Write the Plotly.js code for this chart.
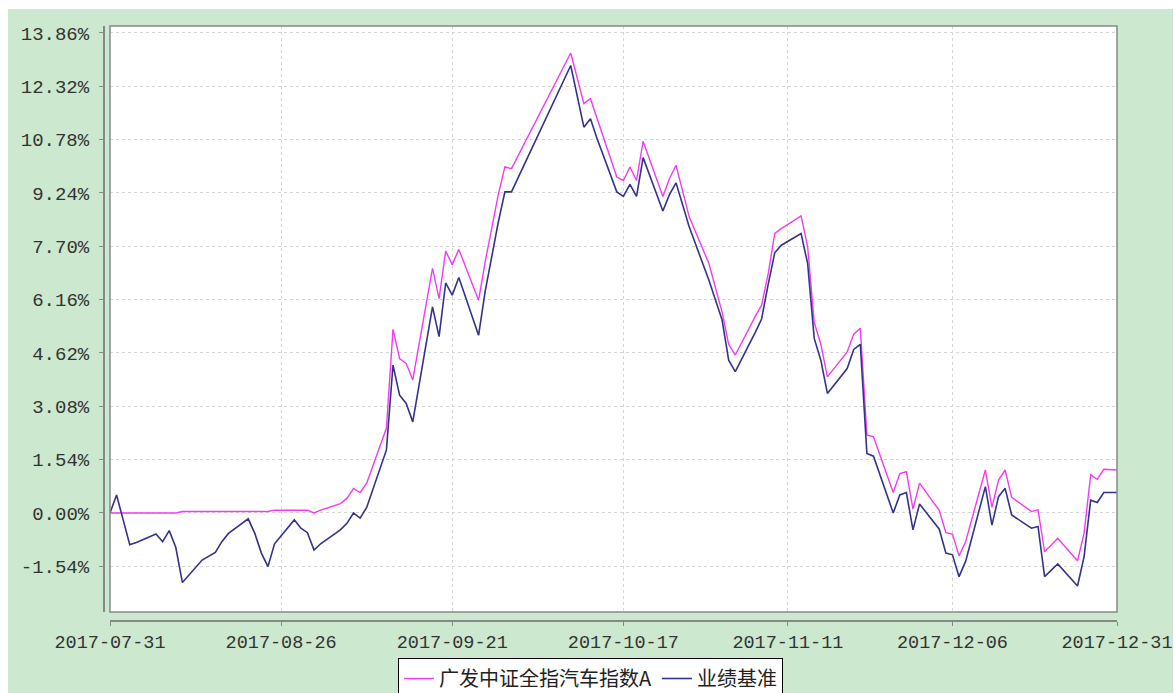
<!DOCTYPE html>
<html>
<head>
<meta charset="utf-8">
<script src="https://cdn.plot.ly/plotly-3.0.1.min.js"></script>
<style>
  html, body { margin: 0; padding: 0; background: #ffffff; }
  #chart { position: absolute; left: 8px; top: 9px; width: 1165px; height: 684px; }
</style>
</head>
<body>
<div id="chart"></div>
<script>
// ---- data ----
const dates = [
  '2017-07-31',
  '2017-08-01','2017-08-02','2017-08-03','2017-08-04',
  '2017-08-07','2017-08-08','2017-08-09','2017-08-10','2017-08-11',
  '2017-08-14','2017-08-15','2017-08-16','2017-08-17','2017-08-18',
  '2017-08-21','2017-08-22','2017-08-23','2017-08-24','2017-08-25',
  '2017-08-28','2017-08-29','2017-08-30','2017-08-31',
  '2017-09-01',
  '2017-09-04','2017-09-05','2017-09-06','2017-09-07','2017-09-08',
  '2017-09-11','2017-09-12','2017-09-13','2017-09-14','2017-09-15',
  '2017-09-18','2017-09-19','2017-09-20','2017-09-21','2017-09-22',
  '2017-09-25','2017-09-26','2017-09-27','2017-09-28','2017-09-29','2017-09-30',
  '2017-10-09','2017-10-10','2017-10-11','2017-10-12','2017-10-13',
  '2017-10-16','2017-10-17','2017-10-18','2017-10-19','2017-10-20',
  '2017-10-23','2017-10-24','2017-10-25','2017-10-26','2017-10-27',
  '2017-10-30','2017-10-31',
  '2017-11-01','2017-11-02','2017-11-03',
  '2017-11-06','2017-11-07','2017-11-08','2017-11-09','2017-11-10',
  '2017-11-13','2017-11-14','2017-11-15','2017-11-16','2017-11-17',
  '2017-11-20','2017-11-21','2017-11-22','2017-11-23','2017-11-24',
  '2017-11-27','2017-11-28','2017-11-29','2017-11-30',
  '2017-12-01',
  '2017-12-04','2017-12-05','2017-12-06','2017-12-07','2017-12-08',
  '2017-12-11','2017-12-12','2017-12-13','2017-12-14','2017-12-15',
  '2017-12-18','2017-12-19','2017-12-20','2017-12-21','2017-12-22',
  '2017-12-25','2017-12-26','2017-12-27','2017-12-28','2017-12-29',
  '2017-12-31'
];

// 广发中证全指汽车指数A (%)
const fundValues = [
  0.00,
  0.00, 0.00, 0.00, 0.00,
  0.00, 0.00, 0.00, 0.00, 0.04,
  0.04, 0.04, 0.04, 0.04, 0.04,
  0.04, 0.04, 0.04, 0.04, 0.08,
  0.08, 0.08, 0.08, 0.00,
  0.08,
  0.27, 0.42, 0.71, 0.59, 0.86,
  2.45, 5.30, 4.46, 4.32, 3.84,
  7.06, 6.19, 7.56, 7.17, 7.61,
  6.14, 7.25, 8.25, 9.20, 9.99, 9.94,
  13.28, 12.55, 11.82, 11.96, 11.40,
  9.70, 9.60, 9.99, 9.60, 10.73,
  9.14, 9.65, 10.04, 9.30, 8.55,
  7.20, 6.50,
  5.80, 4.87, 4.56,
  5.66, 6.00, 6.90, 8.07, 8.21,
  8.58, 7.68, 5.50, 4.87, 3.93,
  4.65, 5.16, 5.33, 2.25, 2.20,
  0.59, 1.14, 1.19, 0.11,
  0.86,
  0.07, -0.57, -0.61, -1.24, -0.83,
  1.24, 0.16, 0.95, 1.24, 0.45,
  0.04, 0.09, -1.12, -0.92, -0.73,
  -1.38, -0.59, 1.10, 0.97, 1.26,
  1.24
];

// 业绩基准 (%)
const benchValues = [
  0.00,
  0.52, -0.20, -0.92, -0.85,
  -0.61, -0.83, -0.51, -1.00, -2.01,
  -1.36, -1.24, -1.14, -0.83, -0.59,
  -0.17, -0.59, -1.16, -1.55, -0.89,
  -0.20, -0.44, -0.57, -1.07,
  -0.89,
  -0.49, -0.30, 0.00, -0.15, 0.16,
  1.82, 4.27, 3.40, 3.16, 2.63,
  5.95, 5.09, 6.64, 6.29, 6.80,
  5.13, 6.40, 7.45, 8.40, 9.27, 9.27,
  12.92, 12.03, 11.14, 11.38, 10.81,
  9.27, 9.14, 9.49, 9.14, 10.26,
  8.72, 9.19, 9.53, 8.90, 8.26,
  6.72, 6.15,
  5.57, 4.41, 4.08,
  5.20, 5.60, 6.60, 7.51, 7.73,
  8.07, 7.20, 5.04, 4.41, 3.45,
  4.17, 4.72, 4.87, 1.72, 1.64,
  0.00, 0.52, 0.59, -0.49,
  0.26,
  -0.47, -1.16, -1.21, -1.84, -1.40,
  0.76, -0.35, 0.47, 0.71, -0.06,
  -0.44, -0.39, -1.84, -1.65, -1.47,
  -2.11, -1.26, 0.37, 0.30, 0.59,
  0.59
];

const seriesNames = ['广发中证全指汽车指数A', '业绩基准'];
const yTickValues = [-1.54, 0.00, 1.54, 3.08, 4.62, 6.16, 7.70, 9.24, 10.78, 12.32, 13.86];
const yTickLabels = yTickValues.map(v => v.toFixed(2) + '%');
const xTickDates = ['2017-07-31','2017-08-26','2017-09-21','2017-10-17','2017-11-11','2017-12-06','2017-12-31'];
const xTickLabels = xTickDates.slice();

// ---- chart ----
const monoFamily = 'Liberation Mono, DejaVu Sans Mono, monospace';

const traces = [
  {
    x: dates, y: fundValues, name: seriesNames[0], type: 'scatter', mode: 'lines',
    line: { color: '#f03cf0', width: 1.4 }
  },
  {
    x: dates, y: benchValues, name: seriesNames[1], type: 'scatter', mode: 'lines',
    line: { color: '#33338a', width: 1.6 }
  }
];

const layout = {
  width: 1165, height: 684,
  margin: { l: 95, r: 56, t: 17, b: 73, pad: 0 },
  paper_bgcolor: '#cce8cf',
  plot_bgcolor: '#ffffff',
  showlegend: true,
  xaxis: {
    type: 'date',
    domain: [7 / 1014, 1],
    range: ['2017-07-31', '2017-12-31'],
    anchor: 'free', position: 0,
    tickmode: 'array', tickvals: xTickDates, ticktext: xTickLabels,
    ticks: 'outside', ticklen: 4, tickcolor: '#888888', tickwidth: 1,
    showline: true, linecolor: '#888888', linewidth: 1.5,
    showgrid: true, gridcolor: '#d6d6d6', griddash: '3px,3px', gridwidth: 1,
    zeroline: false,
    tickfont: { family: monoFamily, size: 18.5, color: '#333333' },
    ticklabelstandoff: 0,
    fixedrange: true
  },
  yaxis: {
    domain: [8 / 594, 1],
    range: [-2.86, 14.06],
    anchor: 'free', position: 0,
    tickmode: 'array', tickvals: yTickValues, ticktext: yTickLabels,
    ticks: 'outside', ticklen: 4, tickcolor: '#888888', tickwidth: 1,
    showline: true, linecolor: '#888888', linewidth: 1.5,
    showgrid: true, gridcolor: '#d6d6d6', griddash: '3px,3px', gridwidth: 1,
    zeroline: false,
    tickfont: { family: monoFamily, size: 19, color: '#333333' },
    ticklabelstandoff: 6,
    fixedrange: true
  },
  shapes: [
    {
      type: 'rect', xref: 'x domain', yref: 'y domain',
      x0: 0, x1: 1, y0: 0, y1: 1,
      line: { color: '#888888', width: 1.5 },
      layer: 'above'
    }
  ],
  legend: {
    orientation: 'h',
    xref: 'container', yref: 'container',
    x: 0.5, xanchor: 'center',
    y: 1 - (658 - 9) / 684, yanchor: 'top',
    bgcolor: '#ffffff', bordercolor: '#000000', borderwidth: 1,
    font: { family: 'Noto Sans CJK SC, sans-serif', size: 20, color: '#222222' },
    itemwidth: 30,
    tracegroupgap: 0
  }
};

Plotly.newPlot('chart', traces, layout, { displayModeBar: false, staticPlot: true });
</script>
</body>
</html>
